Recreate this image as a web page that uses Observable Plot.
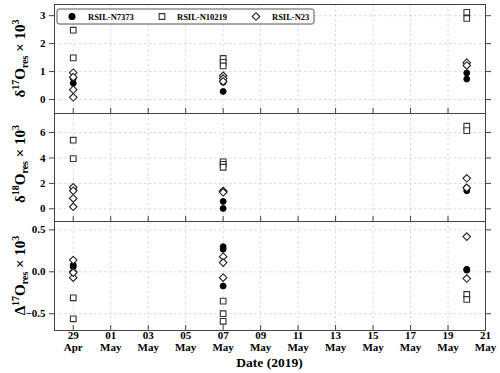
<!DOCTYPE html>
<html><head><meta charset="utf-8">
<script src="https://cdn.jsdelivr.net/npm/d3@7"></script>
<script src="https://cdn.jsdelivr.net/npm/@observablehq/plot@0.6"></script>
<style>
body{margin:0;background:#fff;}
#chart{width:500px;height:373px;position:relative;overflow:hidden;}
#chart svg{display:block;}
</style></head><body><div id="chart"></div>
<script>
// ---- data (values grouped by sampling date) ----
const dates = ["2019-04-29", "2019-05-07", "2019-05-20"];
const seriesNames = ["RSIL-N7373", "RSIL-N10219", "RSIL-N23"];

const d17_N7373  = [[0.76, 0.58], [0.29, 0.62, 0.68], [0.95, 0.73]];
const d17_N10219 = [[2.48, 1.49], [1.47, 1.33, 1.20], [3.12, 2.90]];
const d17_N23    = [[0.96, 0.80, 0.35, 0.08], [0.85, 0.75, 0.65], [1.32, 1.22]];

const d18_N7373  = [[1.60, 1.45], [0.58, 0.03, 1.35], [1.65, 1.42]];
const d18_N10219 = [[5.40, 3.95], [3.70, 3.50, 3.27], [6.50, 6.15]];
const d18_N23    = [[1.69, 1.42, 0.82, 0.16], [1.40, 1.35, 1.30], [2.40, 1.65]];

const D17_N7373  = [[0.08, 0.06], [0.30, 0.27, -0.17], [0.03, 0.02]];
const D17_N10219 = [[-0.31, -0.56], [-0.35, -0.50, -0.59], [-0.27, -0.33]];
const D17_N23    = [[0.14, 0.00, -0.07, -0.01], [0.18, 0.11, -0.07], [0.42, -0.08]];

const xTickLabels = ["2019-04-29","2019-05-01","2019-05-03","2019-05-05","2019-05-07","2019-05-09",
                     "2019-05-11","2019-05-13","2019-05-15","2019-05-17","2019-05-19","2019-05-21"];
const xDomain = ["2019-04-28", "2019-05-21"];
const yTicks17 = [0, 1, 2, 3];
const yTicks18 = [0, 2, 4, 6];
const yTicksD = [-0.5, 0.0, 0.5];

// ---- helpers ----
const FONT = "'Liberation Serif', 'Times New Roman', serif";
const xTicks = xTickLabels.map(d => new Date(d));
function rows(arr, series) {
  return arr.flatMap((vals, i) => vals.map(v => ({date: new Date(dates[i]), value: v, series})));
}
function panel({a, b, c, domain, ticks, fmt, height, marginTop, marginBottom, bottom}) {
  const gridStyle = {stroke: "#d2d2d2", strokeOpacity: 1, strokeDasharray: "2.5,2.5", strokeWidth: 0.8};
  return Plot.plot({
    width: 500, height, marginLeft: 54, marginRight: 15, marginTop, marginBottom,
    x: {type: "utc", domain: xDomain.map(d => new Date(d)), label: null},
    y: {domain, label: null},
    style: {fontFamily: FONT, fontSize: "11px", fontWeight: "bold", color: "#000", background: "white"},
    marks: [
      Plot.gridX(xTicks, gridStyle),
      Plot.gridY(ticks, gridStyle),
      Plot.dot(rows(a, seriesNames[0]), {x: "date", y: "value", symbol: "circle", r: 3, fill: "#000", stroke: "#000", strokeWidth: 0.8}),
      Plot.dot(rows(b, seriesNames[1]), {x: "date", y: "value", symbol: "square", r: 3.2, fill: "white", stroke: "#333", strokeWidth: 1.1}),
      Plot.dot(rows(c, seriesNames[2]), {x: "date", y: "value", symbol: "diamond2", r: 3.4, fill: "white", stroke: "#222", strokeWidth: 1.1}),
      Plot.frame({stroke: "#444"}),
      Plot.axisY(ticks, {anchor: "left", tickSize: 5, tickPadding: 4, tickFormat: fmt, label: null, stroke: "#444"}),
      Plot.axisY(ticks, {anchor: "right", tickSize: 5, tickFormat: () => "", label: null, stroke: "#444"}),
      Plot.axisX(xTicks, {anchor: "bottom", tickSize: -5, tickFormat: () => "", label: null, stroke: "#444"}),
      bottom ? Plot.axisX(xTicks, {anchor: "bottom", tickSize: 0, tickPadding: 0, lineHeight: 1.1,
                                  tickFormat: d3.utcFormat("%d\n%b"), label: null}) : null
    ]
  });
}
function yLabel(svg, greek, iso, cy) {
  const t = d3.select(svg).append("text")
    .attr("transform", `translate(25,${cy}) rotate(-90)`)
    .attr("text-anchor", "middle")
    .attr("font-family", FONT).attr("font-weight", "bold").attr("font-size", 15).attr("fill", "#000");
  t.append("tspan").text(greek);
  t.append("tspan").attr("font-size", 10).attr("dy", -6).text(iso);
  t.append("tspan").attr("dy", 6).text("O");
  t.append("tspan").attr("font-size", 10).attr("dy", 3).text("res");
  t.append("tspan").attr("dy", -3).text(" × 10");
  t.append("tspan").attr("font-size", 10).attr("dy", -6).text("3");
}

const chart = document.getElementById("chart");
const svgTop = panel({a: d17_N7373, b: d17_N10219, c: d17_N23, domain: [-0.5, 3.4], ticks: yTicks17,
                   fmt: d3.format("d"), height: 113, marginTop: 4, marginBottom: 0});
const svgMid = panel({a: d18_N7373, b: d18_N10219, c: d18_N23, domain: [-1, 7.5], ticks: yTicks18,
                   fmt: d3.format("d"), height: 108, marginTop: 0, marginBottom: 0});
const svgBot = panel({a: D17_N7373, b: D17_N10219, c: D17_N23, domain: [-0.7, 0.6], ticks: yTicksD,
                   fmt: d3.format(".1f"), height: 152, marginTop: 0, marginBottom: 43, bottom: true});
chart.append(svgTop, svgMid, svgBot);
yLabel(svgTop, "δ", "17", 58.5);
yLabel(svgMid, "δ", "18", 51);
yLabel(svgBot, "Δ", "17", 54.5);

// x-axis title
d3.select(svgBot).append("text").attr("x", 269.5).attr("y", 146).attr("text-anchor", "middle")
  .attr("font-family", FONT).attr("font-weight", "bold").attr("font-size", 13.5).attr("fill", "#000")
  .text("Date (2019)");

// legend
const lg = d3.select(svgTop).append("g").attr("font-family", FONT).attr("font-weight", "bold")
  .attr("font-size", 8.5).attr("text-anchor", "start");
lg.append("rect").attr("x", 57).attr("y", 9).attr("width", 257).attr("height", 15).attr("rx", 2)
  .attr("fill", "white").attr("stroke", "#555").attr("stroke-width", 1);
const legendItems = [
  {name: seriesNames[0], sx: 72, tx: 88, sym: d3.symbolCircle, size: Math.PI * 9, fill: "#000", stroke: "#000"},
  {name: seriesNames[1], sx: 162, tx: 177, sym: d3.symbolSquare, size: Math.PI * 3.2 * 3.2, fill: "white", stroke: "#333"},
  {name: seriesNames[2], sx: 256, tx: 272, sym: d3.symbolDiamond2, size: Math.PI * 3.4 * 3.4, fill: "white", stroke: "#222"}
];
for (const it of legendItems) {
  lg.append("path").attr("transform", `translate(${it.sx},16.5)`).attr("d", d3.symbol(it.sym, it.size)())
    .attr("fill", it.fill).attr("stroke", it.stroke).attr("stroke-width", 1.1);
  lg.append("text").attr("x", it.tx).attr("y", 19.5).attr("fill", "#000").attr("text-anchor", "start").text(it.name);
}
</script></body></html>
